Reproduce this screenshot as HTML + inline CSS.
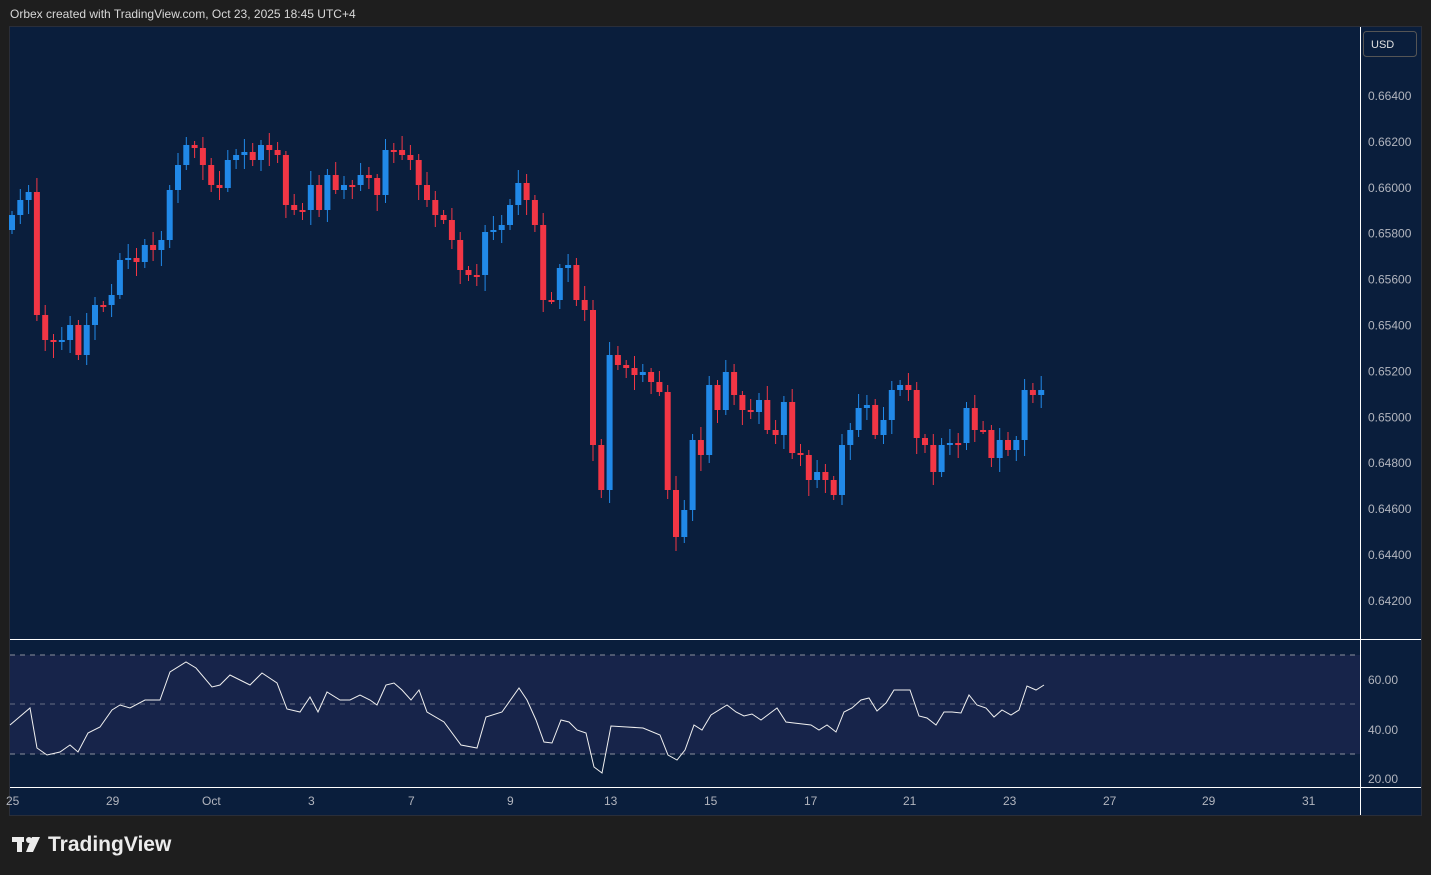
<!DOCTYPE html>
<html><head><meta charset="utf-8"><style>
html,body{margin:0;padding:0;background:#1e1e1e;width:1431px;height:875px;overflow:hidden;font-family:"Liberation Sans",sans-serif}
#hdr{position:absolute;left:10px;top:7px;color:#d8d8d8;font-size:12px}
#logo{position:absolute;left:48px;top:833px;color:#ececec;font-size:21px;font-weight:bold;letter-spacing:0px}
svg{position:absolute;left:0;top:0}
</style></head><body>
<div id="hdr">Orbex created with TradingView.com, Oct 23, 2025 18:45 UTC+4</div>
<svg id="s" width="1431" height="875" xmlns="http://www.w3.org/2000/svg">
<rect x="9.5" y="26.5" width="1412" height="789" fill="#0a1e3c" stroke="#2a2e39"/>
<rect x="10" y="655" width="1350" height="99" fill="#17244a"/>
<line x1="10" y1="655" x2="1360" y2="655" stroke="#8a8f9c" stroke-dasharray="5,5"/>
<line x1="10" y1="704" x2="1360" y2="704" stroke="#8a8f9c" stroke-dasharray="5,5" stroke-opacity="0.7"/>
<line x1="10" y1="754" x2="1360" y2="754" stroke="#8a8f9c" stroke-dasharray="5,5"/>
<line x1="10" y1="639.5" x2="1421" y2="639.5" stroke="#fff"/>
<line x1="10" y1="787.5" x2="1421" y2="787.5" stroke="#fff"/>
<line x1="1360.5" y1="27" x2="1360.5" y2="815" stroke="#fff"/>
<rect x="1363.5" y="31.5" width="53" height="25" rx="3" fill="#0a1e3c" stroke="#555"/>
<text x="1371" y="48" fill="#e0e0e0" font-size="11">USD</text>
<g fill="#ececec"><rect x="12" y="837" width="12" height="5"/><rect x="17" y="837" width="5" height="15"/><circle cx="29" cy="840" r="3"/><polygon points="32,837 40,837 33,852 26,852"/></g>
<g id="c"></g><g id="t" fill="#b2b5be" font-size="12"></g>
</svg>
<div id="logo">TradingView</div>
<script>
const NS="http://www.w3.org/2000/svg";
const g=document.getElementById('c'),t=document.getElementById('t');
function el(n,a,p){const e=document.createElementNS(NS,n);for(const k in a)e.setAttribute(k,a[k]);(p||g).appendChild(e);return e;}
const closes=[215,200,192,315,340,342,340,325,355,325,305,305,295,260,258,262,245,250,240,190,165,145,148,165,185,188,160,155,152,160,145,150,155,205,210,210,185,210,175,190,185,185,175,178,195,150,150,155,160,185,200,215,220,240,270,275,275,232,230,225,205,183,200,225,300,300,268,265,300,310,445,490,355,365,368,375,372,382,392,490,537,510,440,455,385,410,372,395,410,412,400,430,435,402,453,455,480,472,480,495,445,430,408,405,435,420,390,385,390,438,445,472,445,443,443,408,430,430,458,440,450,440,390,395,390];
let prev=230;
closes.forEach((c,i)=>{const x=12+i*8.3;const o=prev;const col=c<o?'#2189e8':'#f23645';
const top=Math.min(o,c),bot=Math.max(o,c);const h=Math.max(bot-top,2);
const wt=top-4-(i*7%11),wb=bot+4+(i*5%13);
el('line',{x1:x.toFixed(1),x2:x.toFixed(1),y1:wt,y2:wb,stroke:col,'stroke-width':1});
el('rect',{x:(x-3).toFixed(1),y:top,width:6,height:h,fill:col});prev=c;});
const rsi=[[10,725],[30,708],[37,748],[47,755],[60,752],[70,745],[78,752],[88,733],[100,727],[112,710],[120,705],[130,708],[145,700],[160,700],[170,672],[186,662],[196,668],[212,687],[220,685],[230,675],[240,680],[250,685],[262,673],[277,683],[287,709],[300,712],[310,697],[318,712],[327,692],[340,700],[350,700],[360,695],[370,700],[377,705],[386,685],[394,683],[402,690],[411,700],[419,690],[427,712],[444,722],[461,745],[477,748],[486,717],[502,712],[519,688],[527,700],[536,720],[544,742],[552,743],[561,720],[569,722],[577,730],[586,733],[594,767],[602,773],[611,726],[627,727],[643,728],[660,735],[668,755],[677,760],[685,750],[694,725],[702,730],[711,715],[727,705],[736,712],[744,716],[752,714],[761,720],[769,714],[777,708],[786,722],[794,723],[811,725],[819,730],[827,725],[836,732],[844,712],[852,708],[861,700],[869,698],[877,711],[886,703],[894,690],[910,690],[919,716],[927,718],[936,725],[944,712],[952,712],[961,713],[969,695],[977,705],[986,708],[994,717],[1002,710],[1011,715],[1019,710],[1027,686],[1036,690],[1044,685]];
el('polyline',{points:rsi.map(p=>p.join(',')).join(' '),fill:'none',stroke:'#f0f0f0','stroke-width':1});
const pl=['0.66400','0.66200','0.66000','0.65800','0.65600','0.65400','0.65200','0.65000','0.64800','0.64600','0.64400','0.64200'];
pl.forEach((s,i)=>{const e=el('text',{x:1368,y:100+i*45.9},t);e.textContent=s;});
[['60.00',684],['40.00',734],['20.00',783]].forEach(a=>{const e=el('text',{x:1368,y:a[1]},t);e.textContent=a[0];});
[['25',6],['29',106],['Oct',202],['3',308],['7',408],['9',507],['13',604],['15',704],['17',804],['21',903],['23',1003],['27',1103],['29',1202],['31',1302]].forEach(a=>{const e=el('text',{x:a[1],y:805},t);e.textContent=a[0];});
</script>
</body></html>
